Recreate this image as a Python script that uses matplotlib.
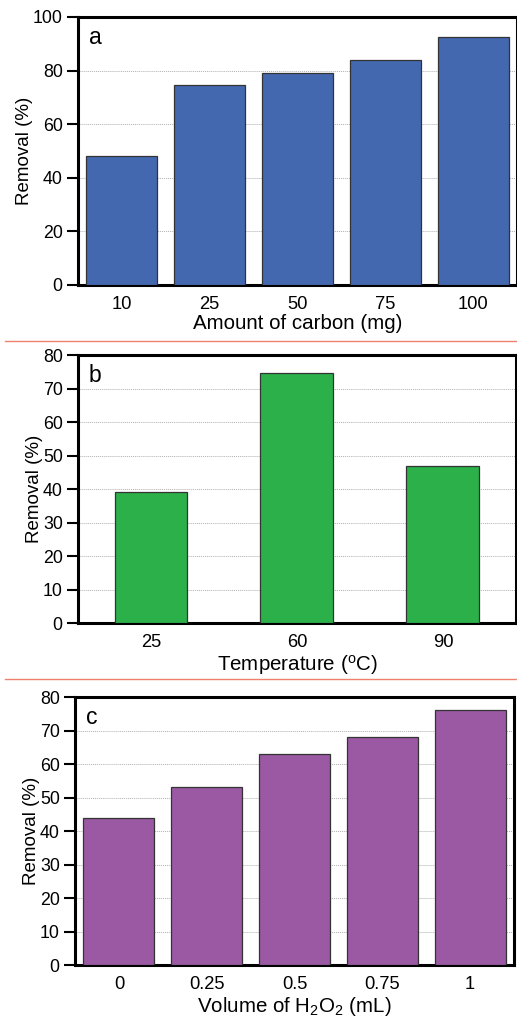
import matplotlib
matplotlib.use("Agg")
import matplotlib.pyplot as plt
from matplotlib.lines import Line2D

plt.rcParams['font.family'] = ['Liberation Sans', 'DejaVu Sans']
plt.rcParams['mathtext.fontset'] = 'custom'
plt.rcParams['mathtext.rm'] = 'Liberation Sans'
plt.rcParams['mathtext.it'] = 'Liberation Sans'

carbon_labels = ['10', '25', '50', '75', '100']
carbon_removal = [48, 74.5, 79, 84, 92.5]

temp_labels = ['25', '60', '90']
temp_removal = [39, 74.5, 47]

h2o2_labels = ['0', '0.25', '0.5', '0.75', '1']
h2o2_removal = [44, 53, 63, 68, 76]

fig = plt.figure(figsize=(5.17, 10.21), dpi=100)

panels = [
    dict(rect=[0.1509, 0.7209, 0.849, 0.2625], labels=carbon_labels, vals=carbon_removal,
         color='#4468B0', width=0.81, ymax=100, ystep=20, tag='a',
         xlabel='Amount of carbon (mg)'),
    dict(rect=[0.1509, 0.3898, 0.847, 0.2625], labels=temp_labels, vals=temp_removal,
         color='#2BB04A', width=0.5, ymax=80, ystep=10, tag='b',
         xlabel='Temperature ($^{\\mathrm{o}}$C)'),
    dict(rect=[0.1451, 0.0548, 0.849, 0.2625], labels=h2o2_labels, vals=h2o2_removal,
         color='#9B59A4', width=0.81, ymax=80, ystep=10, tag='c',
         xlabel='Volume of H$_2$O$_2$ (mL)'),
]

for p in panels:
    ax = fig.add_axes(p['rect'])
    x = list(range(len(p['labels'])))
    ax.bar(x, p['vals'], width=p['width'], color=p['color'], edgecolor='#333333',
           linewidth=0.9, zorder=3)
    ax.set_xlim(-0.5, len(x) - 0.5)
    ax.set_ylim(0, p['ymax'])
    ax.set_yticks(list(range(0, p['ymax'] + 1, p['ystep'])))
    ax.set_xticks(x)
    ax.set_xticklabels(p['labels'])
    ax.yaxis.grid(True, linestyle=(0, (1, 1)), color='#b0b0b0', linewidth=0.7, zorder=0)
    ax.set_axisbelow(True)
    for s in ax.spines.values():
        s.set_linewidth(2.2)
        s.set_color('black')
    ax.tick_params(axis='y', direction='out', length=8, width=1.5, labelsize=12.8, pad=3)
    ax.tick_params(axis='x', length=0, labelsize=13.2, pad=8)
    ax.set_ylabel('Removal (%)', fontsize=13.5, labelpad=0)
    ax.set_xlabel(p['xlabel'], fontsize=14.8, labelpad=1)
    ax.text(0.025, 0.965, p['tag'], transform=ax.transAxes, fontsize=16.5,
            va='top', ha='left')

for yf in [1 - 341 / 1021, 1 - 679 / 1021]:
    fig.add_artist(Line2D([0.01, 1.0], [yf, yf], transform=fig.transFigure,
                          color='#F08070', linewidth=1.0))

fig.savefig('out.png', dpi=100, facecolor='white')
